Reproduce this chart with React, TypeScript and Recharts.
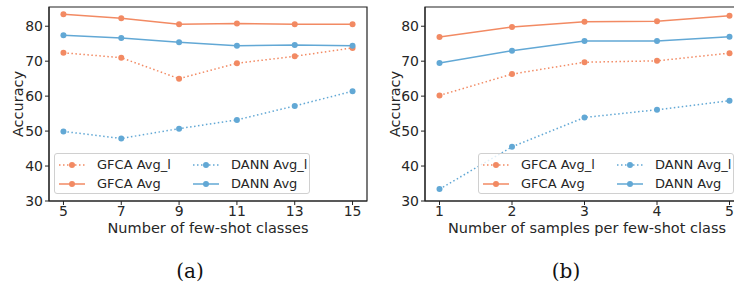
import React from "react";
import { LineChart, Line, XAxis, YAxis, ReferenceArea } from "recharts";

const ORANGE = "#f28a63";
const BLUE = "#62a8d5";
const FONT = "'DejaVu Sans', sans-serif";

// panel (a): number of few-shot classes
const classCounts = [5, 7, 9, 11, 13, 15];
const gfcaAvgL_a = [72.4, 71.0, 65.0, 69.4, 71.4, 73.8];
const gfcaAvg_a = [83.4, 82.3, 80.6, 80.8, 80.6, 80.6];
const dannAvgL_a = [49.9, 47.9, 50.7, 53.2, 57.2, 61.4];
const dannAvg_a = [77.4, 76.6, 75.4, 74.4, 74.6, 74.4];

// panel (b): samples per few-shot class
const sampleCounts = [1, 2, 3, 4, 5];
const gfcaAvgL_b = [60.2, 66.3, 69.7, 70.1, 72.3];
const gfcaAvg_b = [76.9, 79.8, 81.3, 81.4, 83.0];
const dannAvgL_b = [33.4, 45.5, 53.9, 56.1, 58.7];
const dannAvg_b = [69.5, 73.0, 75.8, 75.8, 77.0];

const yTicks = [30, 40, 50, 60, 70, 80];

const series = [
  { key: "gfcaL", name: "GFCA Avg_l", color: ORANGE, dotted: true },
  { key: "gfca", name: "GFCA Avg", color: ORANGE, dotted: false },
  { key: "dannL", name: "DANN Avg_l", color: BLUE, dotted: true },
  { key: "dann", name: "DANN Avg", color: BLUE, dotted: false },
];

function build(xs: number[], a: number[], b: number[], c: number[], d: number[]) {
  return xs.map((x, i) => ({ x, gfcaL: a[i], gfca: b[i], dannL: c[i], dann: d[i] }));
}

const dataA = build(classCounts, gfcaAvgL_a, gfcaAvg_a, dannAvgL_a, dannAvg_a);
const dataB = build(sampleCounts, gfcaAvgL_b, gfcaAvg_b, dannAvgL_b, dannAvg_b);

function LegendBox({ left, top }: { left: number; top: number }) {
  const item = (s: (typeof series)[number]) => (
    <div key={s.key} style={{ display: "flex", alignItems: "center", height: 19 }}>
      <svg width={26} height={10} style={{ marginRight: 12 }}>
        <line x1={0} y1={5} x2={26} y2={5} stroke={s.color} strokeWidth={1.5}
          strokeDasharray={s.dotted ? "1.5 2.5" : undefined} />
        <circle cx={13} cy={5} r={3} fill={s.color} />
      </svg>
      <span>{s.name}</span>
    </div>
  );
  return (
    <div style={{
      position: "absolute", left, top,
      display: "grid", gridTemplateColumns: "134px 118px", padding: "1px 4px",
      border: "1px solid #d0d0d0", borderRadius: 3, background: "rgba(255,255,255,0.8)",
      fontFamily: FONT, fontSize: 13, color: "#262626", width: 256, height: 41, boxSizing: "border-box",
      whiteSpace: "nowrap",
    }}>
      {item(series[0])}{item(series[2])}{item(series[1])}{item(series[3])}
    </div>
  );
}

function Panel({ data, domain, ticks, width, yWidth, right }: {
  data: Record<string, number>[]; domain: [number, number]; ticks: number[];
  width: number; yWidth: number; right: number;
}) {
  const tick = { fill: "#262626", fontSize: 14, fontFamily: FONT };
  return (
    <LineChart width={width} height={230} data={data}
      margin={{ top: 7, right, bottom: 4, left: 0 }}>
      <XAxis dataKey="x" type="number" domain={domain} ticks={ticks} allowDataOverflow
        tick={tick} tickSize={4} stroke="#222" height={25} tickMargin={1} interval={0} />
      <YAxis type="number" domain={[30, 85.5]} ticks={yTicks} allowDataOverflow
        tick={tick} tickSize={4} stroke="#222" width={yWidth} interval={0} />
      <ReferenceArea x1={domain[0]} x2={domain[1]} y1={30} y2={85.5}
        fill="none" stroke="#222" strokeWidth={1.2} ifOverflow="visible" />
      {series.map((s) => (
        <Line key={s.key} dataKey={s.key} name={s.name} stroke={s.color} strokeWidth={1.5}
          strokeDasharray={s.dotted ? "1.5 2.5" : undefined} isAnimationActive={false}
          dot={{ r: 3, fill: s.color, stroke: s.color, strokeWidth: 0 }} activeDot={false} />
      ))}
    </LineChart>
  );
}

export default function App() {
  const label: React.CSSProperties = { fontFamily: FONT, fontSize: 14.5, fill: "#262626" };
  const caption: React.CSSProperties = { fontFamily: "'DejaVu Serif', serif", fontSize: 20, fill: "#111" };
  return (
    <div style={{ position: "absolute", left: 0, top: 0, width: 734, height: 287, overflow: "hidden", background: "#fff" }}>
      <div style={{ position: "absolute", left: 0, top: 0 }}>
        <Panel data={dataA} domain={[4.5, 15.5]} ticks={classCounts} width={380} yWidth={49} right={13} />
      </div>
      <div style={{ position: "absolute", left: 370, top: 0 }}>
        <Panel data={dataB} domain={[0.8, 5.2]} ticks={sampleCounts} width={390} yWidth={55} right={16} />
      </div>
      <LegendBox left={54} top={153} />
      <LegendBox left={478} top={153} />
      <svg width={734} height={287} style={{ position: "absolute", left: 0, top: 0, pointerEvents: "none" }}>
        <text style={label} textAnchor="middle" transform="translate(23,104) rotate(-90)">Accuracy</text>
        <text style={label} textAnchor="middle" transform="translate(400,104) rotate(-90)">Accuracy</text>
        <text style={label} x={208} y={233} textAnchor="middle">Number of few-shot classes</text>
        <text style={label} x={587} y={233} textAnchor="middle">Number of samples per few-shot class</text>
        <text style={caption} x={190} y={278} textAnchor="middle">(a)</text>
        <text style={caption} x={566} y={278} textAnchor="middle">(b)</text>
      </svg>
    </div>
  );
}
